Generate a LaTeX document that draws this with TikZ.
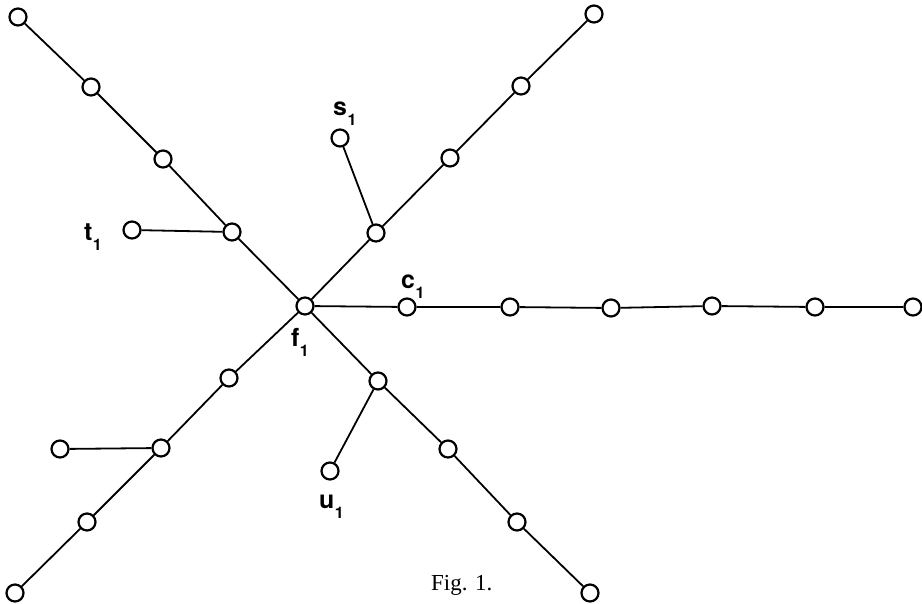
\documentclass[tikz,border=0pt]{standalone}
\usepackage{fontspec}
\setmainfont{Liberation Serif}
\newfontfamily\labfont{TeX Gyre Heros}
\newcommand{\lab}[1]{{\labfont\bfseries\fontsize{25}{25}\selectfont #1\kern0.5bp\raisebox{-10bp}{\fontsize{16}{16}\selectfont 1}}}
\tikzset{
  vtx/.style={circle, draw, line width=2.2bp, fill=white, minimum size=17bp, inner sep=0pt},
  edge/.style={line width=1.8bp},
  lbl/.style={anchor=base west, inner sep=0pt}
}
\begin{document}
\begin{tikzpicture}[x=1bp, y=-1bp]
\useasboundingbox (0,0) rectangle (922,604);
% centre
\node[vtx] (f) at (305,306) {};
% upper-left arm
\node[vtx] (a1) at (232,232) {};
\node[vtx] (a2) at (163,159) {};
\node[vtx] (a3) at (91,87) {};
\node[vtx] (a4) at (18,17) {};
\node[vtx] (t) at (132,230) {};
% upper-right arm
\node[vtx] (b1) at (376,233) {};
\node[vtx] (b2) at (450,158) {};
\node[vtx] (b3) at (521,86) {};
\node[vtx] (b4) at (594,14) {};
\node[vtx] (s) at (340,138) {};
% right arm
\node[vtx] (c1) at (407,307) {};
\node[vtx] (c2) at (510,307) {};
\node[vtx] (c3) at (611,308) {};
\node[vtx] (c4) at (712,306) {};
\node[vtx] (c5) at (815,307) {};
\node[vtx] (c6) at (913,307) {};
% lower-left arm
\node[vtx] (d1) at (229,378) {};
\node[vtx] (d2) at (161,448) {};
\node[vtx] (d3) at (87,522) {};
\node[vtx] (d4) at (15,593) {};
\node[vtx] (e) at (60,449) {};
% lower-right arm
\node[vtx] (g1) at (378,381) {};
\node[vtx] (g2) at (448,449) {};
\node[vtx] (g3) at (517,522) {};
\node[vtx] (g4) at (590,593) {};
\node[vtx] (u) at (330,471) {};
% edges
\draw[edge] (f) -- (a1) -- (a2) -- (a3) -- (a4);
\draw[edge] (t) -- (a1);
\draw[edge] (f) -- (b1) -- (b2) -- (b3) -- (b4);
\draw[edge] (s) -- (b1);
\draw[edge] (f) -- (c1) -- (c2) -- (c3) -- (c4) -- (c5) -- (c6);
\draw[edge] (f) -- (d1) -- (d2) -- (d3) -- (d4);
\draw[edge] (e) -- (d2);
\draw[edge] (f) -- (g1) -- (g2) -- (g3) -- (g4);
\draw[edge] (u) -- (g1);
% labels
\node[lbl] (ls) at (333,116) {\lab{s}};
\node[lbl] (lt) at (84,241) {\lab{t}};
\node[lbl] (lc) at (401,288) {\lab{c}};
\node[lbl] (lf) at (291,346) {\lab{f}};
\node[lbl] (lu) at (319,508) {\lab{u}};
\node[lbl] (cap) at (431,590) {\fontsize{23}{23}\selectfont Fig. 1.};
\end{tikzpicture}
\end{document}
